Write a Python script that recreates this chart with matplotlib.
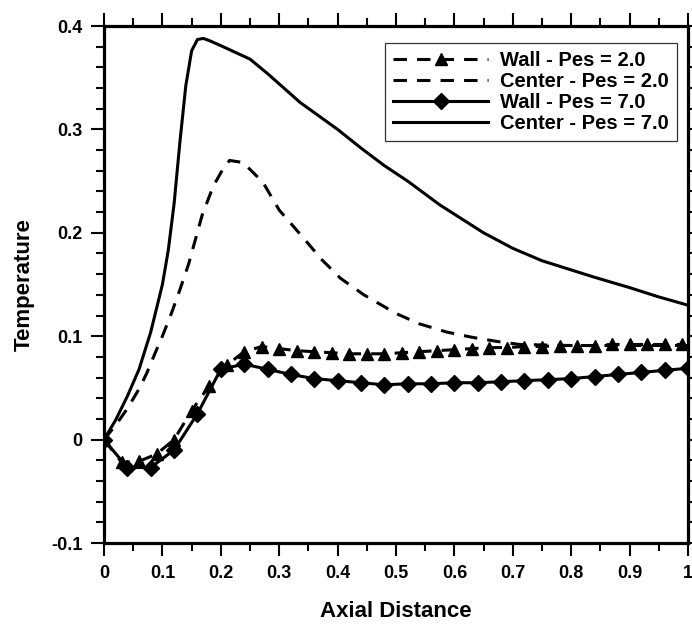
import matplotlib
matplotlib.use("Agg")
import matplotlib.pyplot as plt
from matplotlib.ticker import MultipleLocator, FormatStrFormatter

plt.rcParams["font.family"] = ["Liberation Sans", "DejaVu Sans"]
plt.rcParams["font.weight"] = "bold"

# Wall - Pes = 2.0 (triangles)
wall2_x = [0, 0.03, 0.06, 0.09, 0.12, 0.15, 0.18, 0.21, 0.24, 0.27, 0.30, 0.33,
           0.36, 0.39, 0.42, 0.45, 0.48, 0.51, 0.54, 0.57, 0.60, 0.63, 0.66,
           0.69, 0.72, 0.75, 0.78, 0.81, 0.84, 0.87, 0.90, 0.93, 0.96, 0.99]
wall2_y = [0, -0.022, -0.021, -0.014, 0.0, 0.028, 0.052, 0.072, 0.085, 0.090,
           0.088, 0.086, 0.085, 0.084, 0.083, 0.083, 0.083, 0.084, 0.085,
           0.086, 0.087, 0.088, 0.089, 0.089, 0.090, 0.090, 0.091, 0.091,
           0.091, 0.092, 0.092, 0.092, 0.092, 0.092]

# Center - Pes = 2.0
center2_x = [0, 0.02, 0.04, 0.06, 0.073, 0.09, 0.10, 0.116, 0.13, 0.145, 0.168,
             0.187, 0.204, 0.215, 0.238, 0.272, 0.30, 0.34, 0.373, 0.405,
             0.445, 0.50, 0.54, 0.587, 0.63, 0.672, 0.712, 0.80, 0.90, 1.0]
center2_y = [0, 0.014, 0.030, 0.049, 0.064, 0.087, 0.100, 0.123, 0.145, 0.170,
             0.217, 0.245, 0.262, 0.270, 0.268, 0.249, 0.222, 0.196, 0.174,
             0.156, 0.140, 0.122, 0.112, 0.104, 0.099, 0.095, 0.092, 0.091,
             0.091, 0.091]

# Wall - Pes = 7.0 (diamonds)
wall7_x = [0, 0.04, 0.08, 0.12, 0.16, 0.20, 0.24, 0.28, 0.32, 0.36, 0.40, 0.44,
           0.48, 0.52, 0.56, 0.60, 0.64, 0.68, 0.72, 0.76, 0.80, 0.84, 0.88,
           0.92, 0.96, 1.0]
wall7_y = [0, -0.027, -0.027, -0.010, 0.025, 0.068, 0.073, 0.068, 0.063, 0.059,
           0.057, 0.055, 0.053, 0.054, 0.054, 0.055, 0.055, 0.056, 0.057,
           0.058, 0.059, 0.061, 0.063, 0.065, 0.067, 0.069]

# Center - Pes = 7.0
center7_x = [0, 0.02, 0.04, 0.06, 0.08, 0.10, 0.11, 0.12, 0.13, 0.14,
             0.15, 0.16, 0.17, 0.18, 0.20, 0.25, 0.28, 0.30, 0.336, 0.40, 0.44,
             0.48, 0.52, 0.575, 0.65, 0.70, 0.75, 0.84, 0.90, 0.95, 1.0]
center7_y = [0, 0.019, 0.042, 0.068, 0.104, 0.150, 0.183, 0.228, 0.288,
             0.342, 0.376, 0.387, 0.388, 0.386, 0.381, 0.368, 0.354, 0.344,
             0.326, 0.300, 0.282, 0.265, 0.250, 0.227, 0.200, 0.185, 0.173,
             0.157, 0.147, 0.138, 0.130]

fig = plt.figure(figsize=(6.92, 6.24), dpi=100)
ax = fig.add_axes([0.1503, 0.1298, 0.8439, 0.8285])

dash = (0, (4.4, 3.3))
lw = 2.2
ax.plot(wall2_x, wall2_y, color="black", lw=lw, linestyle=dash,
        marker="^", ms=9, label="Wall - Pes = 2.0")
ax.plot(center2_x, center2_y, color="black", lw=lw, linestyle=dash,
        label="Center - Pes = 2.0")
ax.plot(wall7_x, wall7_y, color="black", lw=lw, marker="D", ms=8.5,
        label="Wall - Pes = 7.0")
ax.plot(center7_x, center7_y, color="black", lw=lw,
        label="Center - Pes = 7.0")

ax.set_xlim(0, 1)
ax.set_ylim(-0.1, 0.4)
ax.xaxis.set_major_locator(MultipleLocator(0.1))
ax.xaxis.set_minor_locator(MultipleLocator(0.05))
ax.yaxis.set_major_locator(MultipleLocator(0.1))
ax.yaxis.set_minor_locator(MultipleLocator(0.02))
ax.xaxis.set_major_formatter(FormatStrFormatter("%g"))
ax.yaxis.set_major_formatter(FormatStrFormatter("%g"))

ax.tick_params(which="both", direction="out", top=True, right=True,
               labeltop=False, labelright=False, width=1.5, labelsize=13)
ax.tick_params(which="major", length=9.5, pad=6)
ax.tick_params(which="minor", length=5.5)
for s in ax.spines.values():
    s.set_linewidth(2.3)

ax.set_xlabel("Axial Distance", fontsize=16, fontweight="bold", labelpad=14)
ax.set_ylabel("Temperature", fontsize=16, fontweight="bold", labelpad=12)

leg = ax.legend(loc="upper right", bbox_to_anchor=(0.981, 0.967),
                borderaxespad=0, fontsize=14.5, handlelength=4.7, frameon=True,
                fancybox=False, borderpad=0.4, labelspacing=0.1,
                handletextpad=0.6)
leg.get_frame().set_edgecolor("black")
leg.get_frame().set_linewidth(0.9)
for t in leg.get_texts():
    t.set_fontweight("bold")

fig.savefig("out.png", dpi=100)
